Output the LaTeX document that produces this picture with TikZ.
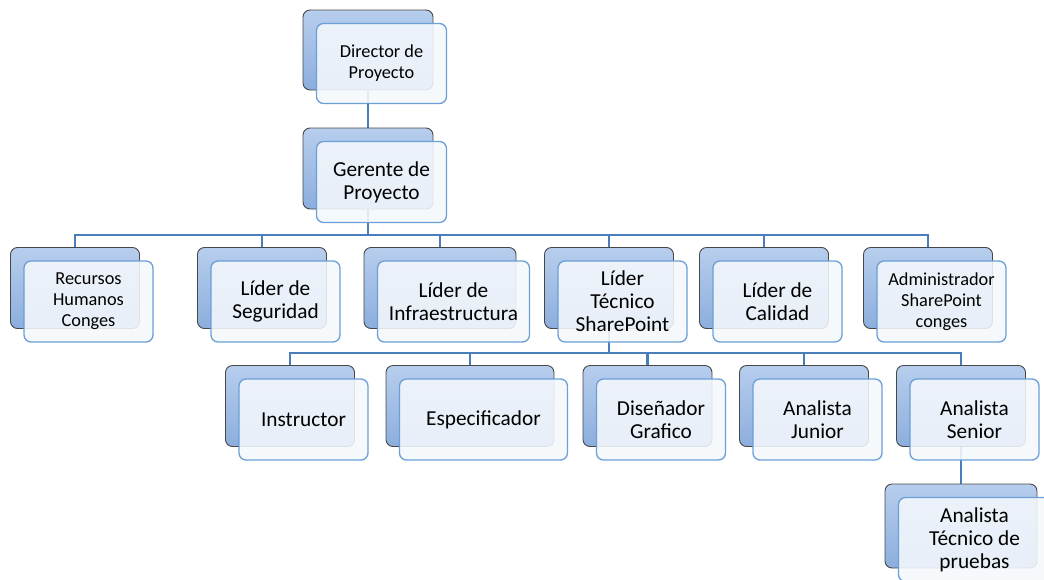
\documentclass[tikz,border=0pt]{standalone}
\usepackage{fontspec}
\setmainfont{Carlito}
\definecolor{backtop}{HTML}{B7CEED}
\definecolor{backbot}{HTML}{8CAEDD}
\definecolor{backedge}{HTML}{474747}
\definecolor{frontedge}{HTML}{6A9FD8}
\definecolor{frontfill}{HTML}{F5F8FC}
\definecolor{linkc}{HTML}{4A7EBB}
\pgfdeclarelayer{bg}
\pgfsetlayers{bg,main}
\tikzset{
  backbox/.style={draw=backedge, line width=0.9pt, rounded corners=7pt,
    top color=backtop, bottom color=backbot, inner sep=0pt, outer sep=0pt},
  frontbox/.style={draw=frontedge, line width=1.3pt, rounded corners=7pt,
    fill=frontfill, fill opacity=0.88, text opacity=1, inner sep=0pt,
    outer sep=0pt, align=center, text=black},
  smalltxt/.style={font=\fontsize{18.3}{21}\selectfont},
  largetxt/.style={font=\fontsize{21.3}{23}\selectfont},
  link/.style={draw=linkc, line width=2.8pt},
}
% name, back centre x, back centre y, width, height, text style, text
\newcommand\orgbox[7]{%
  \node[backbox, minimum width=#4pt, minimum height=#5pt] (#1B) at (#2,#3) {};
  \node[frontbox, #6, minimum width=#4pt, minimum height=#5pt] (#1) at (#2+13.5,#3+13.5) {#7};
}
\begin{document}
\begin{tikzpicture}[x=1pt,y=-1pt]
\useasboundingbox (0,0) rectangle (1044,579);
\orgbox{dir}{368}{50}{130}{80}{smalltxt}{Director de\\Proyecto}
\orgbox{ger}{368}{168.5}{130}{81}{largetxt}{Gerente de\\Proyecto}
\orgbox{rrhh}{75}{288}{129}{81}{smalltxt}{Recursos\\Humanos\\Conges}
\orgbox{seg}{262}{288}{129}{81}{largetxt}{Líder de\\Seguridad}
\orgbox{inf}{440}{288}{152}{81}{largetxt}{Líder de\\Infraestructura}
\orgbox{tec}{609}{288}{129}{81}{largetxt}{Líder\\Técnico\\SharePoint}
\orgbox{cal}{764}{288}{129}{81}{largetxt}{Líder de\\Calidad}
\orgbox{adm}{928}{288}{129}{81}{smalltxt}{Administrador\\SharePoint\\conges}
\orgbox{ins}{290}{406}{129}{81}{largetxt}{Instructor}
\orgbox{esp}{470}{406}{168}{81}{largetxt}{Especificador}
\orgbox{dis}{647.5}{406}{129}{81}{largetxt}{Diseñador\\Grafico}
\orgbox{jun}{804}{406}{129}{81}{largetxt}{Analista\\Junior}
\orgbox{sen}{961}{406}{129}{81}{largetxt}{Analista\\Senior}
\orgbox{pru}{961}{526}{152}{84}{largetxt}{Analista\\Técnico de\\pruebas}
\coordinate (bus1) at (0,235);
\coordinate (bus2) at (0,353);
\begin{pgfonlayer}{bg}
  \draw[link] (dirB.center) -- (gerB.center);
  \draw[link] (gerB.center) -- (gerB.center|-bus1);
  \draw[link] (rrhhB.center) -- (rrhhB.center|-bus1) -- (admB.center|-bus1) -- (admB.center);
  \foreach \n in {seg,inf,tec,cal}
    \draw[link] (\n B.center) -- (\n B.center|-bus1);
  \draw[link] (tecB.center) -- (tecB.center|-bus2);
  \draw[link] (insB.center) -- (insB.center|-bus2) -- (senB.center|-bus2) -- (senB.center);
  \foreach \n in {esp,dis,jun}
    \draw[link] (\n B.center) -- (\n B.center|-bus2);
  \draw[link] (senB.center) -- (pruB.center);
\end{pgfonlayer}
\end{tikzpicture}
\end{document}
